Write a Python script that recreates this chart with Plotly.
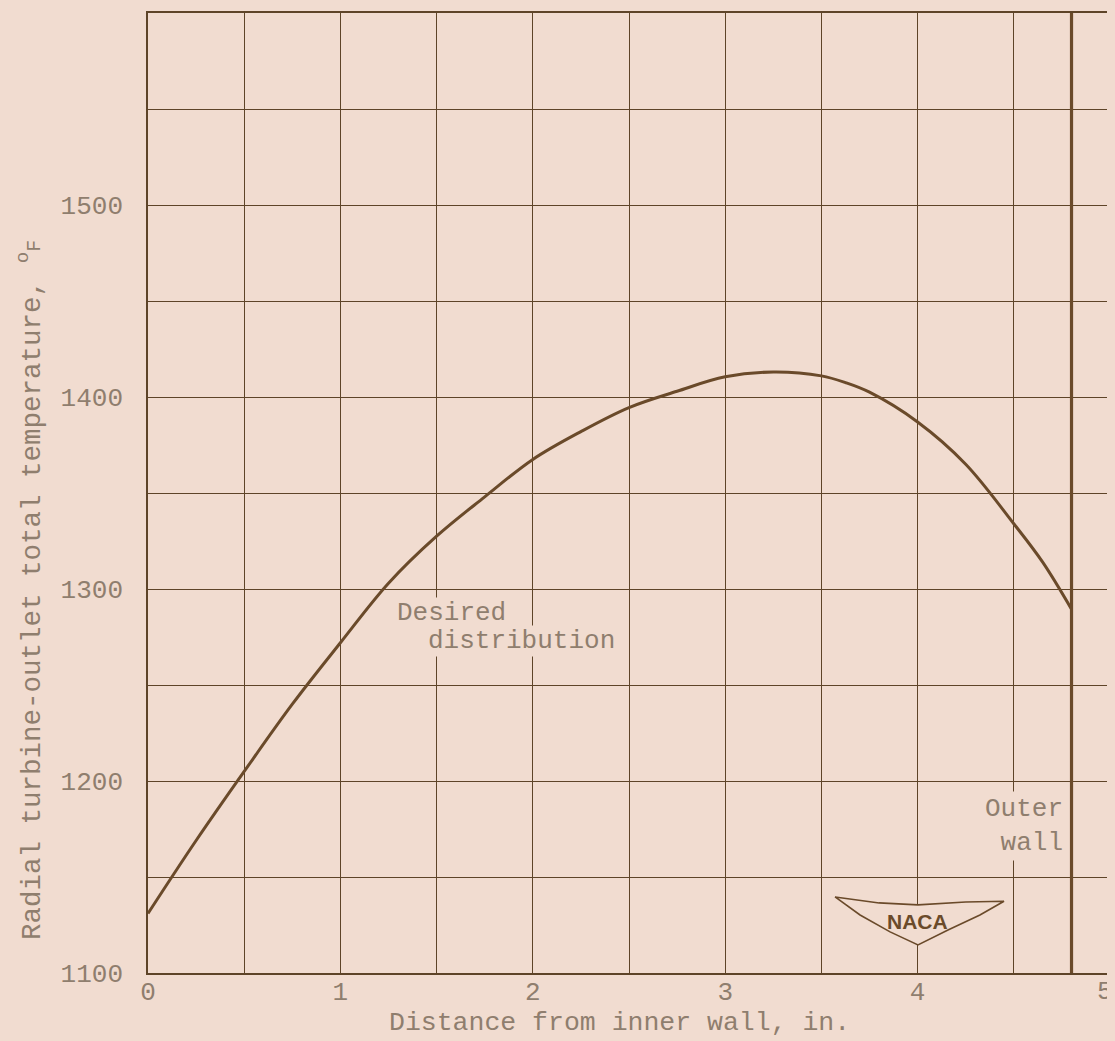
import plotly.graph_objects as go

# ---- data ----
distance_in = [0.0, 0.25, 0.5, 0.75, 1.0, 1.25, 1.5, 1.75, 2.0, 2.25, 2.5, 2.75,
               3.0, 3.25, 3.5, 3.625, 3.75, 4.0, 4.25, 4.5, 4.65, 4.80]
temperature_F = [1131, 1169, 1205, 1240, 1272, 1303, 1327.5, 1348, 1367.5, 1382, 1394.5, 1403,
                 1410.5, 1413, 1411, 1407.5, 1402.5, 1387, 1365, 1334, 1314, 1289.5]
outer_wall_x = 4.80

x_tickvals = [0, 0.5, 1, 1.5, 2, 2.5, 3, 3.5, 4, 4.5, 5]
x_ticktext = ["0", "", "1", "", "2", "", "3", "", "4", "", ""]
x_last_label = "5"
y_tickvals = [1100, 1150, 1200, 1250, 1300, 1350, 1400, 1450, 1500, 1550, 1600]
y_ticktext = ["1100", "", "1200", "", "1300", "", "1400", "", "1500", "", ""]

# ---- style ----
PAPER = "#f1dcd0"
GRID = "#5e4428"
CURVE = "#6a4a2a"
TEXT = "#8f7e6e"
FONT = "Liberation Mono"

fig = go.Figure()

fig.add_trace(go.Scatter(
    x=distance_in, y=temperature_F, mode="lines",
    line=dict(color=CURVE, width=3, shape="spline", smoothing=1.0),
    showlegend=False, hoverinfo="skip"))

fig.add_trace(go.Scatter(
    x=[outer_wall_x, outer_wall_x], y=[1100, 1600], mode="lines",
    line=dict(color=CURVE, width=3.2),
    showlegend=False, hoverinfo="skip"))

fig.update_layout(
    width=1107, height=1033,
    paper_bgcolor=PAPER, plot_bgcolor=PAPER,
    margin=dict(l=140, r=0, t=5, b=68, autoexpand=False),
    font=dict(family=FONT, size=26, color=TEXT),
    showlegend=False,
)

fig.update_xaxes(
    range=[0, 5.026], tickvals=x_tickvals, ticktext=x_ticktext,
    showgrid=True, gridcolor=GRID, gridwidth=1.4,
    showline=True, linecolor=GRID, linewidth=1.6, mirror=True,
    ticks="", ticklabelstandoff=-6, zeroline=False,
    tickfont=dict(family=FONT, size=26, color=TEXT),
)
fig.update_yaxes(
    range=[1100, 1600], tickvals=y_tickvals, ticktext=y_ticktext,
    showgrid=True, gridcolor=GRID, gridwidth=1.4,
    showline=True, linecolor=GRID, linewidth=1.6,
    ticks="", ticklabelstandoff=18, zeroline=False,
    tickfont=dict(family=FONT, size=26, color=TEXT),
)

# last x tick label (kept inside the page, as in the reference)
fig.add_annotation(
    text=x_last_label, x=5, y=1100, xref="x", yref="y", xanchor="center", yanchor="middle",
    xshift=-5, yshift=-19, showarrow=False, font=dict(family=FONT, size=26, color=TEXT))

# axis titles as annotations
fig.add_annotation(
    text="Distance from inner wall, in.", xref="paper", yref="paper",
    x=0.488, y=-0.052, xanchor="center", yanchor="middle", showarrow=False,
    font=dict(family=FONT, size=26.5, color=TEXT))
fig.add_annotation(
    text="Radial turbine-outlet total temperature, <sup>o</sup><span style='font-size:20px'>F</span>",
    xref="paper", yref="paper", x=-0.122, y=0.399, xanchor="center", yanchor="middle",
    textangle=-90, showarrow=False, font=dict(family=FONT, size=27.5, color=TEXT))

# curve label
fig.add_annotation(
    text="Desired", x=1.29, y=1296, xanchor="left", yanchor="top",
    showarrow=False, bgcolor=PAPER, borderpad=0,
    font=dict(family=FONT, size=26, color=TEXT))
fig.add_annotation(
    text="distribution", x=1.45, y=1281, xanchor="left", yanchor="top",
    showarrow=False, bgcolor=PAPER, borderpad=0,
    font=dict(family=FONT, size=26, color=TEXT))

# outer wall label
fig.add_annotation(
    text="Outer<br>wall", x=4.77, y=1195, xanchor="right", yanchor="top",
    align="right", showarrow=False, bgcolor=PAPER, borderpad=2,
    font=dict(family=FONT, size=26, color=TEXT))

# NACA logo (decorative)
fig.add_shape(
    type="path",
    path="M 3.571 1139.6 L 3.80 1136.5 L 4.002 1135.5 L 4.25 1137 L 4.449 1137.4 "
         "L 4.324 1130.2 L 4.158 1122.4 L 4.002 1114.6 L 3.857 1121.4 L 3.701 1130.2 Z",
    xref="x", yref="y", line=dict(color=CURVE, width=1.6), fillcolor=PAPER, layer="above")
fig.add_annotation(
    text="<b>NACA</b>", x=4.0, y=1127, showarrow=False,
    font=dict(family="Liberation Sans Narrow, Liberation Sans", size=21, color=CURVE))

fig.write_html("out.html", post_script="document.body.style.background='#f1dcd0';")
